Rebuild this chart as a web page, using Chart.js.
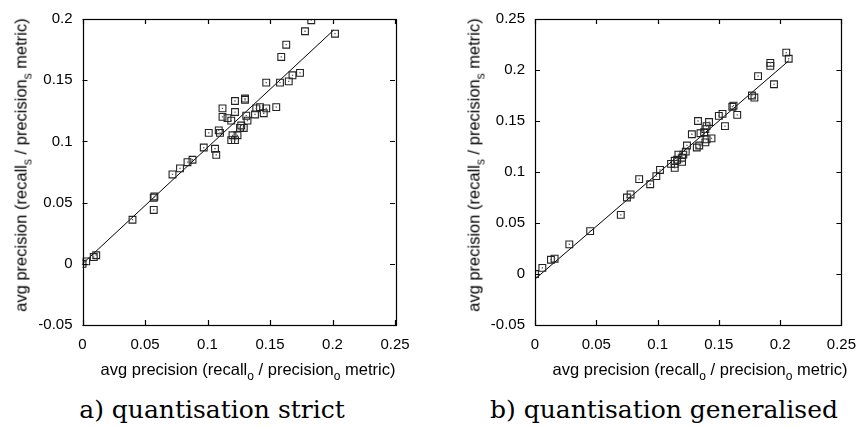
<!DOCTYPE html>
<html><head><meta charset="utf-8">
<script src="https://cdn.jsdelivr.net/npm/chart.js@4/dist/chart.umd.min.js"></script>
<style>
html,body{margin:0;padding:0;background:#fff;width:867px;height:427px;overflow:hidden;position:relative;font-family:"Liberation Sans",Arial,sans-serif;}
.cv{position:absolute;top:0;}
.xt,.yt{position:absolute;font-size:16.5px;color:#000;white-space:nowrap;}
.xt{transform:translate(-50%,-50%);}
.yt{transform:translate(-50%,-50%) rotate(-90deg);}
sub{font-size:12px;vertical-align:-5px;line-height:0;}
.cap{position:absolute;font-family:"DejaVu Serif","Liberation Serif",serif;font-size:25px;white-space:nowrap;transform:translate(-50%,-50%);color:#000;}
</style></head>
<body>
<div class="cv" style="left:0;width:433px;height:360px;"><canvas id="ca"></canvas></div>
<div class="cv" style="left:433px;width:434px;height:360px;"><canvas id="cb"></canvas></div>
<div class="yt" style="left:21px;top:165px;">avg precision (recall<sub>s</sub> / precision<sub>s</sub> metric)</div>
<div class="yt" style="left:474px;top:165px;">avg precision (recall<sub>s</sub> / precision<sub>s</sub> metric)</div>
<div class="xt" style="left:248px;top:369px;">avg precision (recall<sub>o</sub> / precision<sub>o</sub> metric)</div>
<div class="xt" style="left:700px;top:369px;">avg precision (recall<sub>o</sub> / precision<sub>o</sub> metric)</div>
<div class="cap" style="left:212px;top:409px;">a) quantisation strict</div>
<div class="cap" style="left:664px;top:409px;">b) quantisation generalised</div>
<script>
const xTicks = [0, 0.05, 0.1, 0.15, 0.2, 0.25];
const yTicksStrict = [-0.05, 0, 0.05, 0.1, 0.15, 0.2];
const yTicksGeneral = [-0.05, 0, 0.05, 0.1, 0.15, 0.2, 0.25];

const strictX = [0.183,0.178,0.202,0.163,0.159,0.174,0.168,0.165,0.147,0.158,0.130,0.122,0.130,0.112,0.122,0.112,0.116,0.119,0.131,0.132,0.139,0.142,0.147,0.145,0.138,0.155,0.127,0.129,0.126,0.109,0.110,0.101,0.120,0.124,0.119,0.122,0.097,0.106,0.107,0.088,0.084,0.078,0.072,0.0575,0.057,0.057,0.040,0.011,0.009,0.003,0];
const strictY = [0.199,0.190,0.188,0.179,0.169,0.156,0.154,0.149,0.148,0.148,0.135,0.133,0.134,0.127,0.124,0.120,0.119,0.117,0.121,0.117,0.127,0.128,0.127,0.123,0.122,0.128,0.113,0.111,0.111,0.109,0.107,0.107,0.105,0.105,0.101,0.101,0.095,0.094,0.089,0.085,0.083,0.078,0.073,0.055,0.054,0.044,0.036,0.007,0.0055,0.002,0];
const fitStrictX = [0, 0.201];
const fitStrictY = [0, 0.191];

const generalX = [0.205,0.207,0.192,0.192,0.182,0.195,0.177,0.179,0.162,0.161,0.165,0.153,0.150,0.155,0.133,0.142,0.140,0.139,0.138,0.128,0.135,0.144,0.140,0.139,0.134,0.132,0.124,0.123,0.121,0.117,0.120,0.116,0.114,0.120,0.114,0.111,0.114,0.102,0.099,0.085,0.094,0.078,0.075,0.070,0.045,0.028,0.016,0.013,0.006,0];
const generalY = [0.217,0.211,0.207,0.204,0.194,0.186,0.175,0.173,0.165,0.164,0.156,0.157,0.155,0.145,0.150,0.149,0.145,0.142,0.139,0.137,0.138,0.133,0.132,0.129,0.126,0.124,0.126,0.120,0.117,0.117,0.114,0.112,0.111,0.110,0.108,0.108,0.104,0.102,0.096,0.093,0.088,0.078,0.075,0.058,0.042,0.029,0.015,0.014,0.006,0];
const fitGeneralX = [0, 0.207];
const fitGeneralY = [-0.005, 0.209];

const zip = (xs, ys) => xs.map((x, i) => ({x, y: ys[i]}));

const framePlugin = {
  id: 'frame',
  afterDatasetsDraw(chart) {
    const {ctx, chartArea: a, scales} = chart;
    ctx.save();
    ctx.strokeStyle = '#000';
    ctx.lineWidth = 1.2;
    ctx.strokeRect(Math.round(a.left)+0.5, Math.round(a.top)+0.5, Math.round(a.right-a.left), Math.round(a.bottom-a.top));
    const L = 5;
    ctx.beginPath();
    scales.x.ticks.forEach(t => {
      const px = Math.round(scales.x.getPixelForValue(t.value)) + 0.5;
      ctx.moveTo(px, a.bottom); ctx.lineTo(px, a.bottom - L);
      ctx.moveTo(px, a.top); ctx.lineTo(px, a.top + L);
    });
    scales.y.ticks.forEach(t => {
      const py = Math.round(scales.y.getPixelForValue(t.value)) + 0.5;
      ctx.moveTo(a.left, py); ctx.lineTo(a.left + L, py);
      ctx.moveTo(a.right, py); ctx.lineTo(a.right - L, py);
    });
    ctx.stroke();
    ctx.restore();
  }
};

function makeChart(id, xs, ys, fx, fy, yTicks, yMax, leftW, rightPad) {
  const pts = zip(xs, ys);
  return new Chart(document.getElementById(id), {
    type: 'scatter',
    data: {
      datasets: [
        { data: zip(fx, fy), showLine: true, borderColor: '#000', borderWidth: 1, pointRadius: 0, fill: false, order: 2 },
        { data: pts, pointStyle: 'rect', pointRadius: 4.8, borderColor: '#222', borderWidth: 1.1, backgroundColor: 'rgba(0,0,0,0)', order: 1 },
        { data: pts, pointStyle: 'rect', pointRadius: 0.9, borderWidth: 0, backgroundColor: '#555', order: 0 }
      ]
    },
    options: {
      responsive: true, maintainAspectRatio: false, animation: false,
      events: [],
      layout: { padding: { left: 0, top: 14, right: rightPad, bottom: 0 } },
      plugins: { legend: { display: false }, tooltip: { enabled: false } },
      scales: {
        x: {
          type: 'linear', min: 0, max: 0.25,
          afterBuildTicks: s => { s.ticks = xTicks.map(v => ({value: v})); },
          afterFit: s => { s.height = 35; },
          grid: { display: false, drawTicks: false },
          border: { display: false },
          ticks: { padding: 11, color: '#000', font: { family: 'Liberation Sans', size: 15 }, maxRotation: 0, autoSkip: false, callback: v => String(v) }
        },
        y: {
          type: 'linear', min: -0.05, max: yMax,
          afterBuildTicks: s => { s.ticks = yTicks.map(v => ({value: v})); },
          afterFit: s => { s.width = leftW; },
          grid: { display: false, drawTicks: false },
          border: { display: false },
          ticks: { padding: 10, color: '#000', font: { family: 'Liberation Sans', size: 15 }, autoSkip: false, callback: v => String(v) }
        }
      }
    },
    plugins: [framePlugin]
  });
}

makeChart('ca', strictX, strictY, fitStrictX, fitStrictY, yTicksStrict, 0.2, 82.5, 38);
makeChart('cb', generalX, generalY, fitGeneralX, fitGeneralY, yTicksGeneral, 0.25, 102, 20.3);
</script>
</body></html>
